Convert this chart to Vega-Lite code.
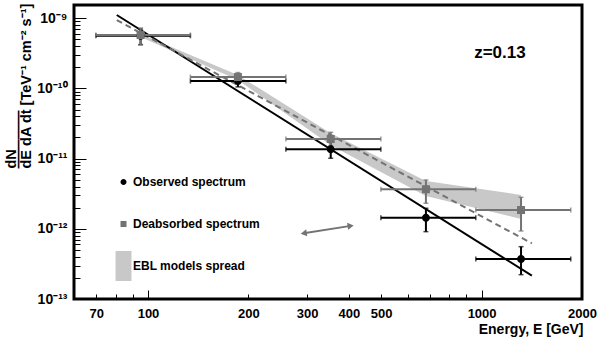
{
  "$schema": "https://vega.github.io/schema/vega-lite/v6.json",
  "width": 508,
  "height": 294,
  "autosize": "none",
  "padding": {"left": 74, "top": 5, "right": 18, "bottom": 41},
  "background": "white",
  "datasets": {
    "spec": [
      {"series": "Observed spectrum", "E": 95, "Elo": 69.8, "Ehi": 134, "F": 5.6e-10, "Flo": 4.2e-10, "Fhi": 7.0e-10},
      {"series": "Observed spectrum", "E": 186, "Elo": 134, "Ehi": 259, "F": 1.27e-10, "Flo": 1.05e-10, "Fhi": 1.5e-10},
      {"series": "Observed spectrum", "E": 353, "Elo": 259, "Ehi": 499, "F": 1.36e-11, "Flo": 1.01e-11, "Fhi": 1.74e-11},
      {"series": "Observed spectrum", "E": 681, "Elo": 499, "Ehi": 961, "F": 1.44e-12, "Flo": 9.1e-13, "Fhi": 1.96e-12},
      {"series": "Observed spectrum", "E": 1313, "Elo": 961, "Ehi": 1851, "F": 3.72e-13, "Flo": 2.22e-13, "Fhi": 5.56e-13},
      {"series": "Deabsorbed spectrum", "E": 95, "Elo": 69.8, "Ehi": 134, "F": 5.76e-10, "Flo": 4.15e-10, "Fhi": 7.25e-10},
      {"series": "Deabsorbed spectrum", "E": 186, "Elo": 134, "Ehi": 259, "F": 1.45e-10, "Flo": 1.22e-10, "Fhi": 1.68e-10},
      {"series": "Deabsorbed spectrum", "E": 353, "Elo": 259, "Ehi": 499, "F": 1.9e-11, "Flo": 1.53e-11, "Fhi": 2.37e-11},
      {"series": "Deabsorbed spectrum", "E": 681, "Elo": 499, "Ehi": 961, "F": 3.66e-12, "Flo": 2.31e-12, "Fhi": 4.96e-12},
      {"series": "Deabsorbed spectrum", "E": 1313, "Elo": 961, "Ehi": 1851, "F": 1.85e-12, "Flo": 9.3e-13, "Fhi": 2.81e-12}
    ],
    "band": [
      {"E": 95, "lo": 5.4e-10, "hi": 5.96e-10},
      {"E": 186, "lo": 1.32e-10, "hi": 1.55e-10},
      {"E": 353, "lo": 1.55e-11, "hi": 2.29e-11},
      {"E": 681, "lo": 2.93e-12, "hi": 4.8e-12},
      {"E": 1313, "lo": 1.38e-12, "hi": 3.03e-12}
    ],
    "fits": [
      {"fit": "obs", "E": 80.6, "F": 1.11e-9},
      {"fit": "obs", "E": 1415, "F": 2.15e-13},
      {"fit": "deab", "E": 80.6, "F": 9.4e-10},
      {"fit": "deab", "E": 1415, "F": 6.2e-13}
    ],
    "arrow": [
      {"E": 293, "F": 8.63e-13, "head": "left"},
      {"E": 405, "F": 1.1e-12, "head": "right"}
    ],
    "note": [
      {"E": 1135, "F": 2.7e-10, "label": "z=0.13"}
    ]
  },
  "resolve": {"axis": {"x": "independent", "y": "independent"}},
  "layer": [
    {
      "data": {"name": "band"},
      "mark": {"type": "area", "color": "#c8c8c8"},
      "encoding": {
        "x": {"field": "E", "type": "quantitative",
          "scale": {"type": "log", "domain": [60, 2000], "nice": false},
          "axis": {"orient": "bottom", "values": [70, 80, 90, 200, 300, 400, 500, 600, 700, 800, 900, 2000],
            "tickSize": -5, "labelPadding": 13, "labelFlush": false, "labelOverlap": false, "title": null,
            "labelExpr": "indexof([70,200,300,400,500,2000], datum.value) >= 0 ? format(datum.value, 'd') : ''"}},
        "y": {"field": "lo", "type": "quantitative",
          "scale": {"type": "log", "domain": [1e-13, 1.54e-9], "nice": false},
          "axis": {"orient": "left", "values": [2e-13, 3e-13, 4e-13, 5e-13, 6e-13, 7e-13, 8e-13, 9e-13, 2e-12, 3e-12, 4e-12, 5e-12, 6e-12, 7e-12, 8e-12, 9e-12, 2e-11, 3e-11, 4e-11, 5e-11, 6e-11, 7e-11, 8e-11, 9e-11, 2e-10, 3e-10, 4e-10, 5e-10, 6e-10, 7e-10, 8e-10, 9e-10],
            "tickSize": -6, "labels": false, "title": null}},
        "y2": {"field": "hi"}
      }
    },
    {
      "data": {"name": "fits"},
      "transform": [{"filter": "datum.fit == 'obs'"}],
      "mark": {"type": "line", "color": "black", "strokeWidth": 2},
      "encoding": {
        "x": {"field": "E", "type": "quantitative",
          "axis": {"orient": "bottom", "values": [100, 1000], "tickSize": -9, "labelPadding": 17,
            "labelFlush": false, "labelOverlap": false, "format": "d",
            "title": "Energy, E [GeV]", "titleX": 509, "titleY": 34, "titleAlign": "right",
            "titleBaseline": "alphabetic", "titleFontSize": 14}},
        "y": {"field": "F", "type": "quantitative",
          "axis": {"orient": "left", "values": [1e-13, 1e-12, 1e-11, 1e-10, 1e-9], "tickSize": -12,
            "labelPadding": 19, "labelOverlap": false, "labelFontSize": 14,
            "labelExpr": "datum.value < 3e-13 ? '10⁻¹³' : datum.value < 3e-12 ? '10⁻¹²' : datum.value < 3e-11 ? '10⁻¹¹' : datum.value < 3e-10 ? '10⁻¹⁰' : '10⁻⁹'",
            "title": ["     dN", "————", "dE dA dt  [TeV⁻¹ cm⁻² s⁻¹]"],
            "titleAngle": -90, "titleAlign": "left", "titleBaseline": "alphabetic",
            "titleX": -58.5, "titleY": 163, "titleLineHeight": 7.25, "titleFontSize": 14.5}}
      }
    },
    {
      "data": {"name": "fits"},
      "transform": [{"filter": "datum.fit == 'deab'"}],
      "mark": {"type": "line", "color": "#737373", "strokeWidth": 2, "strokeDash": [6, 4]},
      "encoding": {
        "x": {"field": "E", "type": "quantitative", "axis": null},
        "y": {"field": "F", "type": "quantitative", "axis": null}
      }
    },
    {
      "data": {"name": "spec"},
      "mark": {"type": "errorbar", "ticks": {"size": 5, "thickness": 1.5}, "thickness": 2},
      "encoding": {
        "x": {"field": "Elo", "type": "quantitative", "axis": null},
        "x2": {"field": "Ehi"},
        "y": {"field": "F", "type": "quantitative", "axis": null},
        "color": {"condition": {"test": "datum.series == 'Observed spectrum'", "value": "black"}, "value": "#737373"}
      }
    },
    {
      "data": {"name": "spec"},
      "mark": {"type": "errorbar", "ticks": {"size": 5, "thickness": 1.5}, "thickness": 2},
      "encoding": {
        "x": {"field": "E", "type": "quantitative", "axis": null},
        "y": {"field": "Flo", "type": "quantitative", "axis": null},
        "y2": {"field": "Fhi"},
        "color": {"condition": {"test": "datum.series == 'Observed spectrum'", "value": "black"}, "value": "#737373"}
      }
    },
    {
      "data": {"name": "spec"},
      "mark": {"type": "point", "filled": true, "size": 1600, "opacity": 1},
      "encoding": {
        "x": {"field": "E", "type": "quantitative", "axis": null},
        "y": {"field": "F", "type": "quantitative", "axis": null},
        "color": {"field": "series", "type": "nominal",
          "scale": {"domain": ["Observed spectrum", "Deabsorbed spectrum", "EBL models spread"], "range": ["black", "#737373", "#c8c8c8"]},
          "legend": {"orient": "none", "legendX": 34.5, "legendY": 162, "title": null, "symbolSize": 900,
            "labelFontSize": 12, "labelFontWeight": "bold", "labelFont": "Liberation Sans", "labelColor": "black",
            "labelOffset": -5.5, "rowPadding": 21, "symbolStrokeWidth": 0, "padding": 0}},
        "shape": {"field": "series", "type": "nominal",
          "scale": {"domain": ["Observed spectrum", "Deabsorbed spectrum", "EBL models spread"],
            "range": ["M0.2,0A0.2,0.2,0,1,1,-0.2,0A0.2,0.2,0,1,1,0.2,0Z", "M-0.2,-0.2H0.2V0.2H-0.2Z", "M-0.53,-1H0.53V1H-0.53Z"]},
          "legend": {"orient": "none", "legendX": 34.5, "legendY": 162, "title": null, "symbolSize": 900,
            "labelFontSize": 12, "labelFontWeight": "bold", "labelFont": "Liberation Sans", "labelColor": "black",
            "labelOffset": -5.5, "rowPadding": 21, "symbolStrokeWidth": 0, "padding": 0}}
      }
    },
    {
      "data": {"name": "arrow"},
      "mark": {"type": "line", "color": "#737373", "strokeWidth": 2},
      "encoding": {
        "x": {"field": "E", "type": "quantitative", "axis": null},
        "y": {"field": "F", "type": "quantitative", "axis": null}
      }
    },
    {
      "data": {"name": "arrow"},
      "mark": {"type": "point", "filled": true, "size": 50, "angle": -9, "color": "#737373", "opacity": 1},
      "encoding": {
        "x": {"field": "E", "type": "quantitative", "axis": null},
        "y": {"field": "F", "type": "quantitative", "axis": null},
        "shape": {"condition": {"test": "datum.head == 'left'", "value": "triangle-left"}, "value": "triangle-right"}
      }
    },
    {
      "data": {"name": "note"},
      "mark": {"type": "text", "font": "Liberation Sans", "fontWeight": "bold", "fontSize": 17, "align": "center", "baseline": "alphabetic", "color": "black"},
      "encoding": {
        "x": {"field": "E", "type": "quantitative", "axis": null},
        "y": {"field": "F", "type": "quantitative", "axis": null},
        "text": {"field": "label"}
      }
    }
  ],
  "config": {
    "view": {"stroke": "black", "strokeWidth": 3},
    "font": "Liberation Sans",
    "axis": {"grid": false, "domain": false, "tickColor": "black", "tickWidth": 1,
      "labelColor": "black", "labelFont": "Liberation Sans", "labelFontWeight": "bold", "labelFontSize": 13,
      "titleColor": "black", "titleFont": "Liberation Sans", "titleFontWeight": "bold", "titleFontSize": 13}
  }
}
